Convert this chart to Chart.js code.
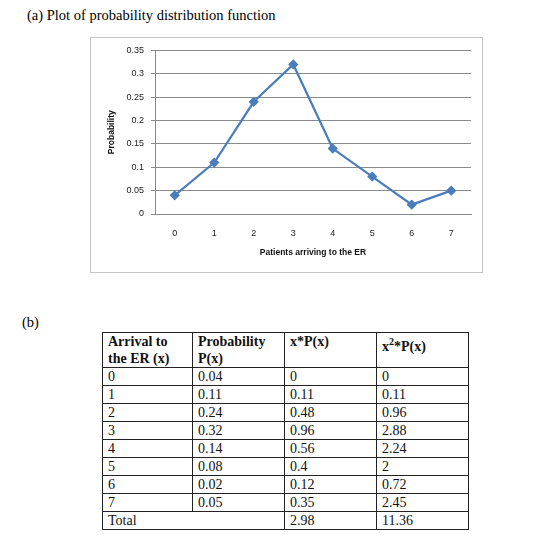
<!DOCTYPE html>
<html>
<head>
<meta charset="utf-8">
<script src="https://cdn.jsdelivr.net/npm/chart.js@4/dist/chart.umd.min.js"></script>
<style>
body { margin:0; background:#fff; width:560px; height:550px; position:relative; overflow:hidden; }
#title { position:absolute; left:27px; top:7px; font:14.5px "Liberation Serif"; color:#000; }
#frame { position:absolute; left:90px; top:37px; width:391px; height:234px; border:1px solid #c4c4c4; }
#frame canvas { position:absolute; left:0; top:0; }
#labelB { position:absolute; left:22px; top:314px; font:14.5px "Liberation Serif"; }
table { position:absolute; left:102px; top:332px; border-collapse:collapse; font:14px "Liberation Serif"; color:#111; }
td, th { border:1px solid #222; padding:0 5px; height:17px; line-height:17px; text-align:left; vertical-align:top; font-weight:normal; }
th { font-weight:bold; height:34px; }
</style>
</head>
<body>
<div id="title">(a) Plot of probability distribution function</div>
<div id="frame"><canvas id="canvas" width="391" height="234"></canvas></div>
<div id="labelB">(b)</div>
<table id="tbl">
  <colgroup><col style="width:90px"><col style="width:92px"><col style="width:92px"><col style="width:92px"></colgroup>
  <thead>
    <tr><th>Arrival to<br>the ER (x)</th><th>Probability<br>P(x)</th><th>x*P(x)</th><th>x<sup style="font-size:10px">2</sup>*P(x)</th></tr>
  </thead>
  <tbody id="rows"></tbody>
</table>
<script>
// chart + table data
const arrivals = ['0', '1', '2', '3', '4', '5', '6', '7']
const probability = [0.04, 0.11, 0.24, 0.32, 0.14, 0.08, 0.02, 0.05]
const xTimesP = ['0', '0.11', '0.48', '0.96', '0.56', '0.4', '0.12', '0.35']
const x2TimesP = ['0', '0.11', '0.96', '2.88', '2.24', '2', '0.72', '2.45']
const totals = ['2.98', '11.36']
const yMax = 0.35
const yStep = 0.05

const blue = '#4a7ebb'
const font = "'Liberation Sans', Arial, sans-serif"

const ctx = document.getElementById('canvas').getContext('2d')

new Chart(ctx, {
  type: 'line',
  data: {
    labels: arrivals,
    datasets: [{
      data: probability,
      borderColor: blue,
      backgroundColor: blue,
      borderWidth: 2.2,
      pointStyle: 'rectRot',
      pointRadius: 3.6,
      pointHoverRadius: 3.6,
      tension: 0
    }]
  },
  options: {
    responsive: false,
    animation: false,
    layout: { padding: { left: 0, right: 11, top: 12, bottom: 0 } },
    plugins: { legend: { display: false }, tooltip: { enabled: false } },
    scales: {
      x: {
        offset: true,
        grid: { display: false, drawTicks: false },
        border: { color: '#888' },
        ticks: { color: '#222', padding: 14, font: { family: font, size: 9 } },
        title: { display: true, text: 'Patients arriving to the ER', color: '#111', padding: { top: 0, bottom: 14 }, font: { family: font, size: 8.5, weight: 'bold' } },
        afterFit: (s) => { s.height = 58 }
      },
      y: {
        min: 0,
        max: yMax,
        grid: { color: '#8a8a8a', tickLength: 4 },
        border: { color: '#8a8a8a' },
        ticks: { stepSize: yStep, color: '#222', padding: 7, font: { family: font, size: 9 }, callback: v => String(+v.toFixed(2)) },
        title: { display: true, text: 'Probability', color: '#111', padding: { top: 16, bottom: 0 }, font: { family: font, size: 8.5, weight: 'bold' } },
        afterFit: (s) => { s.width = 64 }
      }
    }
  }
})

// table rows
const tbody = document.getElementById('rows')
for (let i = 0; i < arrivals.length; i++) {
  const tr = document.createElement('tr')
  ;[arrivals[i], String(probability[i]), xTimesP[i], x2TimesP[i]].forEach(t => {
    const td = document.createElement('td')
    td.textContent = t
    tr.appendChild(td)
  })
  tbody.appendChild(tr)
}
const tr = document.createElement('tr')
const tdTotal = document.createElement('td')
tdTotal.colSpan = 2
tdTotal.textContent = 'Total'
tr.appendChild(tdTotal)
totals.forEach(t => {
  const td = document.createElement('td')
  td.textContent = t
  tr.appendChild(td)
})
tbody.appendChild(tr)
</script>
</body>
</html>
